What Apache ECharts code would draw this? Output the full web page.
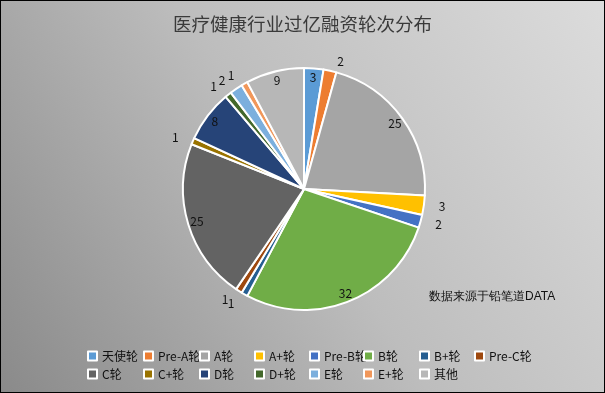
<!DOCTYPE html>
<html><head><meta charset="utf-8">
<script src="https://cdn.jsdelivr.net/npm/echarts@6/dist/echarts.min.js"></script>
<style>html,body{margin:0;padding:0;}#c{width:605px;height:393px;box-sizing:border-box;border:1px solid #000;}</style>
</head><body><div id="c"></div>
<script>
const categories = ['天使轮','Pre-A轮','A轮','A+轮','Pre-B轮','B轮','B+轮','Pre-C轮','C轮','C+轮','D轮','D+轮','E轮','E+轮','其他'];
const values = [3,2,25,3,2,32,1,1,25,1,8,1,2,1,9];
const colors = ['#5B9BD5','#ED7D31','#A5A5A5','#FFC000','#4472C4','#70AD47','#255E91','#9E480E','#636363','#997300','#264478','#43682B','#7CAFDD','#F1975A','#B7B7B7'];
const insideLabel = ['天使轮','A轮','B轮','C轮','D轮','其他'];
const title = '医疗健康行业过亿融资轮次分布';
const source = '数据来源于铅笔道DATA';

const font = '"Noto Sans CJK SC", "Liberation Sans", sans-serif';
const chart = echarts.init(document.getElementById('c'));
const center = [303, 188];
const R = 121;

const mainData = categories.map((n,i)=>({
  name:n, value:values[i], itemStyle:{color:colors[i]},
  label:{show: insideLabel.indexOf(n) < 0}
}));
const overlayData = categories.map((n,i)=>({
  name:n, value:values[i],
  label:{show: insideLabel.indexOf(n) >= 0}
}));

// legends in columns
const colLeft = [86,142,198,253,308,362,418,473];
const legends = colLeft.map((x,ci)=>{
  const d = [categories[ci]];
  if (categories[ci+8]) d.push(categories[ci+8]);
  return {
    data:d, orient:'vertical', left:x, top:348, itemWidth:9, itemHeight:9,
    itemGap:4, itemTextGap:3, icon:'rect', padding:0,
    itemStyle:{borderColor:'#fff', borderWidth:2},
    textStyle:{fontSize:12, color:'#111', fontFamily:font, lineHeight:14},
    selectedMode:false
  };
});

chart.setOption({
  backgroundColor:{type:'linear', x:0, y:1, x2:1, y2:0, colorStops:[
    {offset:0,color:'#8a8a8a'},{offset:0.5,color:'#bdbdbd'},{offset:1,color:'#dcdcdc'}]},
  animation:false,
  title:{text:title, left:'center', top:9,
    textStyle:{fontSize:18.5, fontWeight:'normal', color:'#3a3a3a', fontFamily:font}},
  legend: legends,
  graphic:[{type:'text', left:428, top:290, style:{text:source, fontSize:12, fill:'#111', font:'12px ' + font}}],
  series:[
    {type:'pie', center:center, radius:[0,R], startAngle:90, clockwise:true,
     data:mainData, avoidLabelOverlap:false,
     labelLayout:{hideOverlap:false},
     itemStyle:{borderColor:'#fff', borderWidth:2},
     label:{position:'outside', fontSize:12, color:'#111', fontFamily:font, formatter:'{c}'},
     labelLine:{show:false, length:10, length2:0}},
    {type:'pie', center:center, radius:[R*0.8,R], startAngle:90, clockwise:true, silent:true,
     data:overlayData, avoidLabelOverlap:false, legendHoverLink:false,
     labelLayout:{hideOverlap:false},
     itemStyle:{color:'rgba(0,0,0,0)', borderWidth:0},
     label:{position:'inside', fontSize:12, color:'#111', fontFamily:font, formatter:'{c}'},
     labelLine:{show:false}}
  ]
});
</script></body></html>
